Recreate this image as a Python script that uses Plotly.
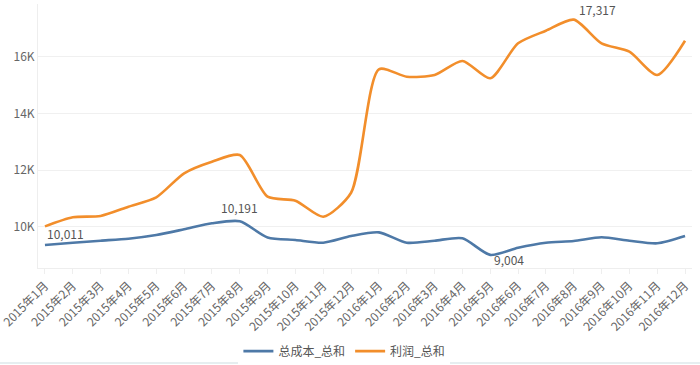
import plotly.graph_objects as go

months = ["2015年1月", "2015年2月", "2015年3月", "2015年4月", "2015年5月", "2015年6月",
          "2015年7月", "2015年8月", "2015年9月", "2015年10月", "2015年11月", "2015年12月",
          "2016年1月", "2016年2月", "2016年3月", "2016年4月", "2016年5月", "2016年6月",
          "2016年7月", "2016年8月", "2016年9月", "2016年10月", "2016年11月", "2016年12月"]

cost_total = [9353, 9435, 9505, 9576, 9707, 9908, 10120, 10191, 9620, 9530, 9435, 9671,
              9800, 9435, 9505, 9590, 9004, 9258, 9435, 9495, 9625, 9505, 9413, 9671]

profit_total = [10011, 10332, 10378, 10707, 11039, 11887, 12297, 12534, 11060, 10919, 10353, 11200,
                15562, 15300, 15360, 15855, 15244, 16480, 16926, 17317, 16480, 16184, 15360, 16572]

series_names = ["总成本_总和", "利润_总和"]
y_tick_vals = [10000, 12000, 14000, 16000]
y_tick_text = ["10K", "12K", "14K", "16K"]

FONT = "Segoe UI, 'Noto Sans CJK SC', 'Noto Sans', sans-serif"
BLUE = "#4E79A7"
ORANGE = "#F28E2B"

fig = go.Figure()
fig.add_trace(go.Scatter(x=months, y=cost_total, name=series_names[0], mode="lines",
                         line=dict(color=BLUE, width=2.6, shape="spline", smoothing=0.7)))
fig.add_trace(go.Scatter(x=months, y=profit_total, name=series_names[1], mode="lines",
                         line=dict(color=ORANGE, width=2.6, shape="spline", smoothing=0.7)))

def fmt(v):
    return f"{v:,}"

annotations = []
# max / min labels
i = profit_total.index(min(profit_total))
annotations.append(dict(x=months[i], y=profit_total[i], text=fmt(profit_total[i]),
                        xanchor="left", yanchor="top", xshift=0, yshift=3))
i = cost_total.index(max(cost_total))
annotations.append(dict(x=months[i], y=cost_total[i], text=fmt(cost_total[i]),
                        xanchor="center", yanchor="bottom", yshift=3))
i = profit_total.index(max(profit_total))
annotations.append(dict(x=months[i], y=profit_total[i], text=fmt(profit_total[i]),
                        xanchor="left", yanchor="bottom", xshift=3, yshift=0))
i = cost_total.index(min(cost_total))
annotations.append(dict(x=months[i], y=cost_total[i], text=fmt(cost_total[i]),
                        xanchor="left", yanchor="top", xshift=2, yshift=6))
for a in annotations:
    a.update(showarrow=False, font=dict(family=FONT, size=12, color="#555555"))

fig.update_layout(
    width=700, height=365,
    margin=dict(l=38, r=8, t=4, b=97),
    paper_bgcolor="white", plot_bgcolor="white",
    font=dict(family=FONT, size=12, color="#666666"),
    showlegend=True,
    legend=dict(orientation="h", xref="container", yref="container",
                x=0.492, xanchor="center", y=0.038, yanchor="middle",
                font=dict(family=FONT, size=12, color="#555555"), itemwidth=30),
    annotations=annotations,
    xaxis=dict(range=[-0.25, 23.25], tickangle=-45, showgrid=False, automargin=False,
               showline=True, linecolor="#eeeeee", linewidth=1,
               ticks="outside", ticklen=5, tickcolor="#eeeeee",
               tickfont=dict(family=FONT, size=12, color="#666666")),
    yaxis=dict(range=[8540, 17870], tickvals=y_tick_vals, ticktext=y_tick_text, automargin=False,
               showgrid=True, gridcolor="#f0f0f0", gridwidth=1, zeroline=False,
               showline=True, linecolor="#eeeeee", linewidth=1,
               tickfont=dict(family=FONT, size=12, color="#666666")),
)
fig.add_shape(type="line", xref="paper", yref="paper", x0=-0.0581, x1=1.0122, y0=-0.36, y1=-0.36,
              line=dict(color="#e6eef0", width=2))

fig.write_html("out.html", config={"displayModeBar": False},
               post_script="document.body.style.margin='0';")
